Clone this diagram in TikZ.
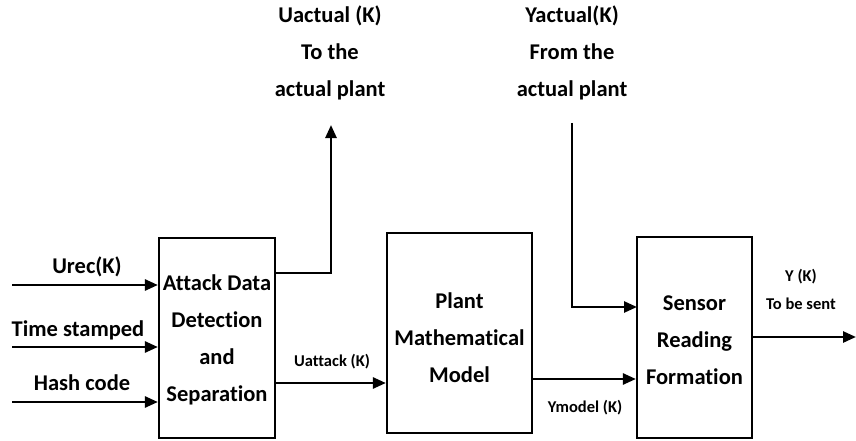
\documentclass[tikz,border=0pt]{standalone}
\usepackage{fontspec}
\setmainfont{Carlito}[Ligatures={NoCommon}]
\usetikzlibrary{arrows.meta}
\begin{document}
\begin{tikzpicture}[x=1pt,y=-1pt,
  blk/.style={draw,line width=2.2pt,inner sep=0pt,align=center,font=\bfseries\fontsize{22.5}{37}\selectfont},
  lbl/.style={inner sep=0pt,align=center,font=\bfseries\fontsize{22.5}{37}\selectfont},
  slbl/.style={inner sep=0pt,align=center,font=\bfseries\fontsize{16.5}{28}\selectfont},
  ylbl/.style={inner sep=0pt,align=center,font=\bfseries\fontsize{16.5}{28}\selectfont},
  arr/.style={line width=2.6pt,-{Triangle[length=13pt,width=11pt]}},
  ln/.style={line width=2.6pt}]
\useasboundingbox (0,0) rectangle (856,441);
% boxes
\node[blk,minimum width=116pt,minimum height=200pt] (b1) at (217,338) {};
\node[lbl] (t1) at (217,340) {Attack Data\\Detection\\and\\Separation};
\node[blk,minimum width=145pt,minimum height=200pt] (b2) at (459.5,333) {};
\node[lbl] (t2) at (459.5,338) {Plant\\Mathematical\\Model};
\node[blk,minimum width=115pt,minimum height=201pt] (b3) at (694.5,337.5) {};
\node[lbl] (t3) at (694.5,340) {Sensor\\Reading\\Formation};
% input labels
\node[lbl] (lu) at (87,267) {Urec(K)};
\node[lbl] (lt) at (78,330) {Time stamped};
\node[lbl] (lh) at (82,383) {Hash code};
% input coordinates
\coordinate (i1) at (12,285);
\coordinate (i2) at (12,347);
\coordinate (i3) at (12,402);
\draw[arr] (i1) -- (i1 -| b1.west);
\draw[arr] (i2) -- (i2 -| b1.west);
\draw[arr] (i3) -- (i3 -| b1.west);
% Uactual output
\coordinate (ua) at (331,125);
\coordinate (uo) at (275,273);
\draw[arr] (uo) -| (ua);
\node[lbl] (lua) at (330,53) {Uactual (K)\\To the\\actual plant};
% Uattack
\coordinate (uat) at (275,383);
\draw[arr] (uat) -- (uat -| b2.west);
\node[slbl] (luat) at (332,362) {Uattack (K)};
% Ymodel
\coordinate (ym) at (532,379);
\draw[arr] (ym) -- (ym -| b3.west);
\node[slbl] (lym) at (585,408) {Ymodel (K)};
% Yactual
\coordinate (ya) at (572,123);
\coordinate (yin) at (637,307);
\draw[arr] (ya) |- (yin);
\node[lbl] (lya) at (572,53) {Yactual(K)\\From the\\actual plant};
% Y output
\coordinate (yo) at (856,337);
\draw[arr] (yo -| b3.east) -- (yo);
\node[ylbl] (lyo) at (801,289) {Y (K)\\To be sent};
\end{tikzpicture}
\end{document}
